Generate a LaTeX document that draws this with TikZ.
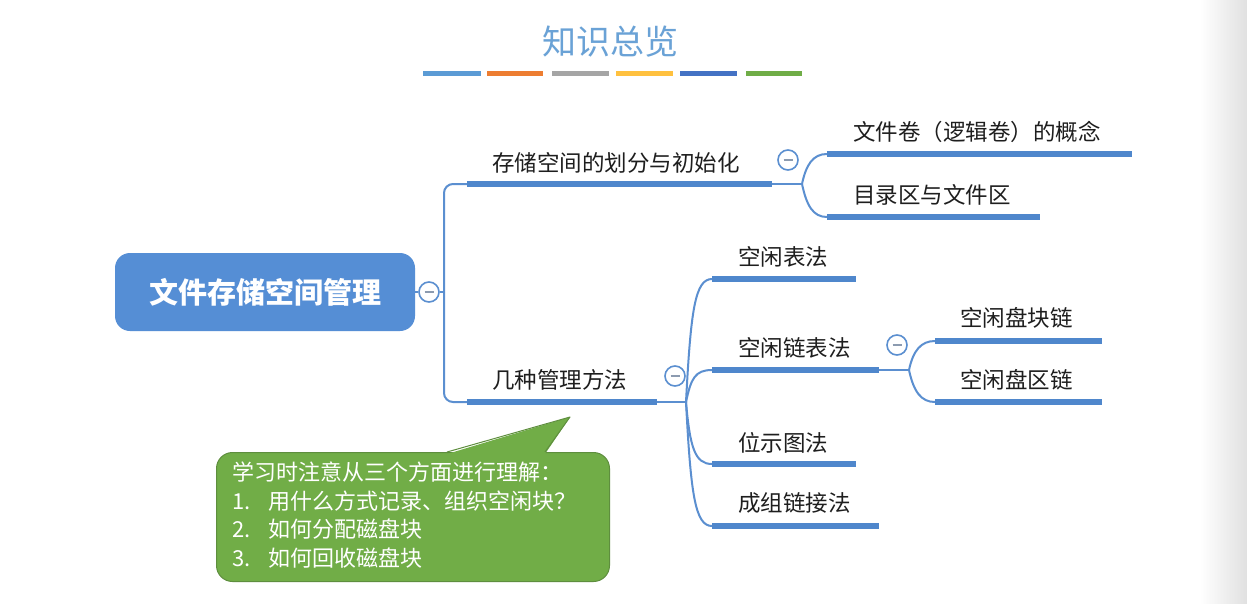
\documentclass[tikz,border=0pt]{standalone}
\usepackage{fontspec}
\setmainfont{Noto Sans CJK SC}
\usetikzlibrary{calc}
\definecolor{lineblue}{HTML}{5B8FD0}
\definecolor{barblue}{HTML}{4F87CC}
\definecolor{rootblue}{HTML}{558ED5}
\definecolor{titleblue}{HTML}{6AA2D6}
\definecolor{calloutgreen}{HTML}{71AD47}
\definecolor{calloutedge}{HTML}{5E8E3E}
\definecolor{textdark}{HTML}{1E1E1E}
\definecolor{minusgray}{HTML}{8C9BB0}
\definecolor{cbarA}{HTML}{5B9BD5}
\definecolor{cbarB}{HTML}{ED7D31}
\definecolor{cbarC}{HTML}{A5A5A5}
\definecolor{cbarD}{HTML}{FFC13F}
\definecolor{cbarE}{HTML}{4472C4}
\definecolor{cbarF}{HTML}{70AD47}
\tikzset{
  thinline/.style={draw=lineblue, line width=2pt},
  barline/.style={draw=barblue, line width=6.5pt},
  topic/.style={anchor=west, inner sep=0pt, font=\fontsize{22.5}{27}\selectfont, text=textdark},
  foldbtn/.style={circle, draw=lineblue, line width=1.6pt, fill=white, minimum size=20pt, inner sep=0pt,
    path picture={\draw[line width=1.6pt, draw=minusgray] ([xshift=-4.5pt]path picture bounding box.center) -- ([xshift=4.5pt]path picture bounding box.center);}},
  deco/.style={line width=5.5pt},
  upbranch/.style={thinline, out=#1, in=180, in distance=17pt},
}
\begin{document}
\begin{tikzpicture}[x=1pt, y=-1pt]
\useasboundingbox (0,0) rectangle (1247,603);
\fill[white] (0,0) rectangle (1247,603);
\shade[left color=white, right color=black!12] (1200,0) rectangle (1247,603);

% title
\node[font=\fontsize{34}{40}\selectfont, text=titleblue, inner sep=0pt] (title) at (610,42) {知识总览};
\draw[deco, draw=cbarA] (423,73.5) -- (481,73.5);
\draw[deco, draw=cbarB] (487,73.5) -- (543,73.5);
\draw[deco, draw=cbarC] (552,73.5) -- (609,73.5);
\draw[deco, draw=cbarD] (616,73.5) -- (673,73.5);
\draw[deco, draw=cbarE] (680,73.5) -- (737,73.5);
\draw[deco, draw=cbarF] (746,73.5) -- (802,73.5);

% root
\node[fill=rootblue, rounded corners=15pt, minimum width=300pt, minimum height=78pt, inner sep=0pt,
      text=white, font=\fontsize{29}{34}\selectfont\bfseries] (root) at (265,292) {文件存储空间管理};
\node[foldbtn] (rootfold) at (429,292) {};
\coordinate (trunk) at (444,292);
\draw[thinline] (root.east) -- (rootfold.west);
\draw[thinline] (rootfold.east) -- (trunk);

% topic A
\coordinate (aS) at (467,184);
\coordinate (aE) at (772,184);
\coordinate (aJ) at (802,184);
\draw[thinline, rounded corners=9pt] (trunk) |- (aS);
\draw[thinline] (aE) -- (aJ);
\draw[barline] (aS) -- (aE);
\node[topic] (aL) at (492,163) {存储空间的划分与初始化};
\node[foldbtn] (aF) at (788,160) {};

\coordinate (a1S) at (827,154);
\coordinate (a1E) at (1132,154);
\coordinate (a2S) at (827,217);
\coordinate (a2E) at (1040,217);
\draw[upbranch=78, out distance=20pt, in distance=14pt] (aJ) to (a1S);
\draw[upbranch=-78, out distance=22pt, in distance=14pt] (aJ) to (a2S);
\draw[barline] (a1S) -- (a1E);
\draw[barline] (a2S) -- (a2E);
\node[topic] (a1L) at (853,132) {文件卷（逻辑卷）的概念};
\node[topic] (a2L) at (853,195) {目录区与文件区};

% topic B
\coordinate (bS) at (467,402);
\coordinate (bE) at (657,402);
\coordinate (bJ) at (686,402);
\draw[thinline, rounded corners=9pt] (trunk) |- (bS);
\draw[thinline] (bE) -- (bJ);
\draw[barline] (bS) -- (bE);
\node[topic] (bL) at (492,380) {几种管理方法};
\node[foldbtn] (bF) at (675,376) {};

\coordinate (b1S) at (712,279);
\coordinate (b1E) at (856,279);
\coordinate (b2S) at (712,370);
\coordinate (b2E) at (879,370);
\coordinate (b3S) at (712,464);
\coordinate (b3E) at (856,464);
\coordinate (b4S) at (712,526);
\coordinate (b4E) at (879,526);
\draw[upbranch=87, out distance=92pt] (bJ) to (b1S);
\draw[upbranch=78, out distance=24pt] (bJ) to (b2S);
\draw[upbranch=-85, out distance=46pt] (bJ) to (b3S);
\draw[upbranch=-87, out distance=92pt] (bJ) to (b4S);
\draw[barline] (b1S) -- (b1E);
\draw[barline] (b2S) -- (b2E);
\draw[barline] (b3S) -- (b3E);
\draw[barline] (b4S) -- (b4E);
\node[topic] (b1L) at (738,257) {空闲表法};
\node[topic] (b2L) at (738,348) {空闲链表法};
\node[topic] (b3L) at (738,443) {位示图法};
\node[topic] (b4L) at (738,503) {成组链接法};
\node[foldbtn] (b2F) at (897,345) {};

% sub-branch of 空闲链表法
\coordinate (cJ) at (909,370);
\coordinate (c1S) at (935,341);
\coordinate (c1E) at (1102,341);
\coordinate (c2S) at (935,402);
\coordinate (c2E) at (1102,402);
\draw[thinline] (b2E) -- (cJ);
\draw[upbranch=78, out distance=20pt, in distance=14pt] (cJ) to (c1S);
\draw[upbranch=-78, out distance=22pt, in distance=14pt] (cJ) to (c2S);
\draw[barline] (c1S) -- (c1E);
\draw[barline] (c2S) -- (c2E);
\node[topic] (c1L) at (960,318) {空闲盘块链};
\node[topic] (c2L) at (960,380) {空闲盘区链};

% callout
\node[fill=calloutgreen, draw=calloutedge, line width=1pt, rounded corners=16pt,
      minimum width=393pt, minimum height=129pt, inner sep=0pt, anchor=north west] (callout) at (216,452) {};
\coordinate (tipA) at (447,452);
\coordinate (tip) at (570,417);
\coordinate (tipB) at (545,452);
\fill[calloutgreen] ($(tipA)+(0,2)$) -- (tip) -- ($(tipB)+(0,2)$) -- cycle;
\draw[calloutedge, line width=1pt, line join=round] (tipA) -- (tip) -- (tipB);
\node[anchor=west, align=left, inner sep=0pt, text=white, font=\fontsize{22}{28.7}\selectfont] (calloutText) at (232,515)
 {学习时注意从三个方面进行理解：\\
  \makebox[36pt][l]{1.}用什么方式记录、组织空闲块？\\
  \makebox[36pt][l]{2.}如何分配磁盘块\\
  \makebox[36pt][l]{3.}如何回收磁盘块};
\end{tikzpicture}
\end{document}
